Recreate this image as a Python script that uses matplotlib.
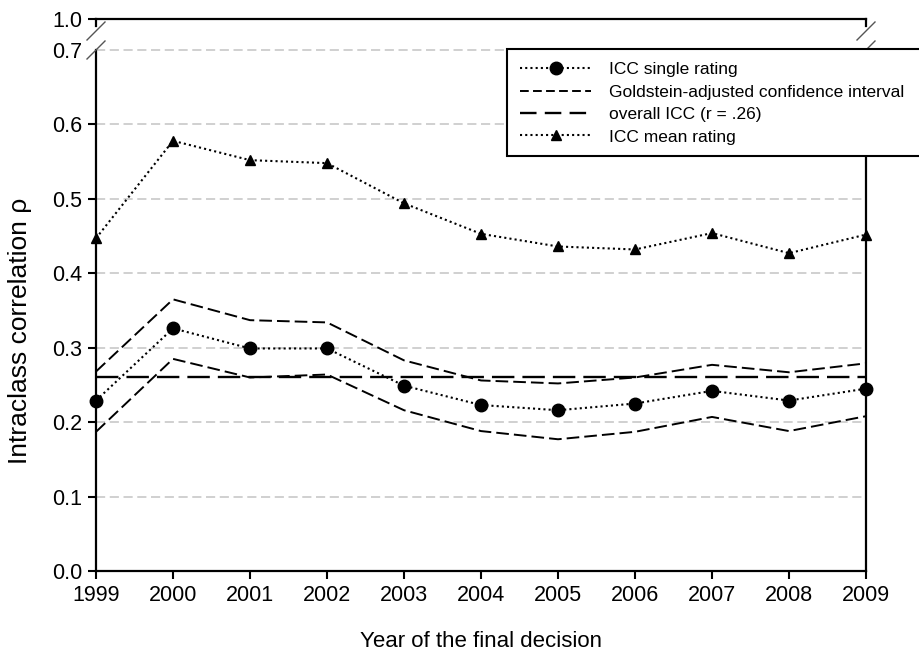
import matplotlib
matplotlib.use("Agg")
import matplotlib.pyplot as plt
from matplotlib.lines import Line2D
from matplotlib.patches import Rectangle

plt.rcParams['font.family'] = ['Liberation Sans', 'DejaVu Sans']

years = [1999, 2000, 2001, 2002, 2003, 2004, 2005, 2006, 2007, 2008, 2009]
icc_single = [0.229, 0.326, 0.299, 0.299, 0.249, 0.223, 0.216, 0.225, 0.242, 0.229, 0.245]
ci_upper = [0.268, 0.365, 0.337, 0.334, 0.283, 0.256, 0.252, 0.260, 0.277, 0.267, 0.279]
ci_lower = [0.187, 0.285, 0.260, 0.264, 0.216, 0.188, 0.177, 0.187, 0.207, 0.188, 0.208]
icc_mean = [0.447, 0.578, 0.552, 0.548, 0.494, 0.453, 0.436, 0.432, 0.454, 0.427, 0.452]
overall_icc = 0.26
yticks = [0.0, 0.1, 0.2, 0.3, 0.4, 0.5, 0.6, 0.7]
ytick_labels = ['0.0', '0.1', '0.2', '0.3', '0.4', '0.5', '0.6', '0.7']

W, H = 920, 656
fig = plt.figure(figsize=(W / 100, H / 100), dpi=100)

L, R, B, T = 96, 866, 571, 50
ax = fig.add_axes([L / W, 1 - B / H, (R - L) / W, (B - T) / H])
ax.set_xlim(1999, 2009)
ax.set_ylim(0, 0.7)

spine_lw = 1.6
for s in ['left', 'right', 'bottom']:
    ax.spines[s].set_linewidth(spine_lw)
ax.spines['top'].set_visible(False)

# gridlines
for v in yticks[1:]:
    ax.axhline(v, color='#c4c4c4', lw=1.1, dashes=(6, 3), zorder=0, clip_on=False)

ax.set_xticks(years)
ax.set_xticklabels([str(y) for y in years])
ax.set_yticks(yticks)
ax.set_yticklabels(ytick_labels)
ax.tick_params(axis='both', direction='out', length=6, width=1.5, labelsize=15.5, pad=4)
ax.yaxis.get_major_ticks()[-1].tick1line.set_visible(False)

# data
ax.plot(years, ci_upper, color='black', lw=1.4, dashes=(6.5, 2.6), zorder=3)
ax.plot(years, ci_lower, color='black', lw=1.4, dashes=(6.5, 2.6), zorder=3)
ax.plot(years, [overall_icc] * len(years), color='black', lw=1.7, dashes=(9.5, 3.4), zorder=3)
ax.plot(years, icc_single, color='black', lw=1.5, dashes=(1, 1.5), marker='o', markersize=9,
        zorder=4, clip_on=False)
ax.plot(years, icc_mean, color='black', lw=1.5, dashes=(1, 1.5), marker='^', markersize=6.5,
        zorder=4, clip_on=False)

ax.set_xlabel('Year of the final decision', fontsize=16, labelpad=18)
ax.set_ylabel('Intraclass correlation ρ', fontsize=19, labelpad=8)
ax.yaxis.set_label_coords(-0.083, 0.46)

# upper broken segment
axt = fig.add_axes([L / W, 1 - 26 / H, (R - L) / W, 7 / H])
axt.set_xlim(1999, 2009)
axt.set_ylim(0.99, 1.0)
axt.spines['bottom'].set_visible(False)
for s in ['left', 'right', 'top']:
    axt.spines[s].set_linewidth(spine_lw)
axt.set_xticks([])
axt.set_yticks([1.0])
axt.set_yticklabels(['1.0'])
axt.tick_params(axis='y', direction='out', length=6, width=1.5, labelsize=15.5, pad=4)
axt.patch.set_alpha(0)

# break marks
def brk(xc):
    for (y1, y2) in [(40, 22), (59, 41)]:
        fig.add_artist(Line2D([(xc - 9) / W, (xc + 9) / W], [1 - y1 / H, 1 - y2 / H],
                              color='#555555', lw=1.0))
brk(L)
brk(R)

# legend box (extends past the right edge as in the reference)
box = Rectangle((507 / W, 1 - 156 / H), (940 - 507) / W, (156 - 49) / H,
                transform=fig.transFigure, facecolor='white', edgecolor='black',
                lw=1.5, zorder=9)
fig.add_artist(box)

h_single = Line2D([], [], color='black', lw=1.5, dashes=(1, 1.5), marker='o', markersize=9)
h_ci = Line2D([], [], color='black', lw=1.4, dashes=(4.5, 2.2))
h_all = Line2D([], [], color='black', lw=1.7, dashes=(7, 3.5))
h_mean = Line2D([], [], color='black', lw=1.5, dashes=(1, 1.5), marker='^', markersize=6.5)
leg = fig.legend([h_single, h_ci, h_all, h_mean],
                 ['ICC single rating', 'Goldstein-adjusted confidence interval',
                  'overall ICC (r = .26)', 'ICC mean rating'],
                 loc='upper left', bbox_to_anchor=(507 / W, 1 - 49 / H),
                 bbox_transform=fig.transFigure, fontsize=12.5, frameon=False,
                 borderaxespad=0, handlelength=4.1, handletextpad=1.0,
                 labelspacing=0.42, borderpad=0.75, markerscale=1.0)
leg.set_zorder(10)

fig.savefig('out.png', dpi=100)
